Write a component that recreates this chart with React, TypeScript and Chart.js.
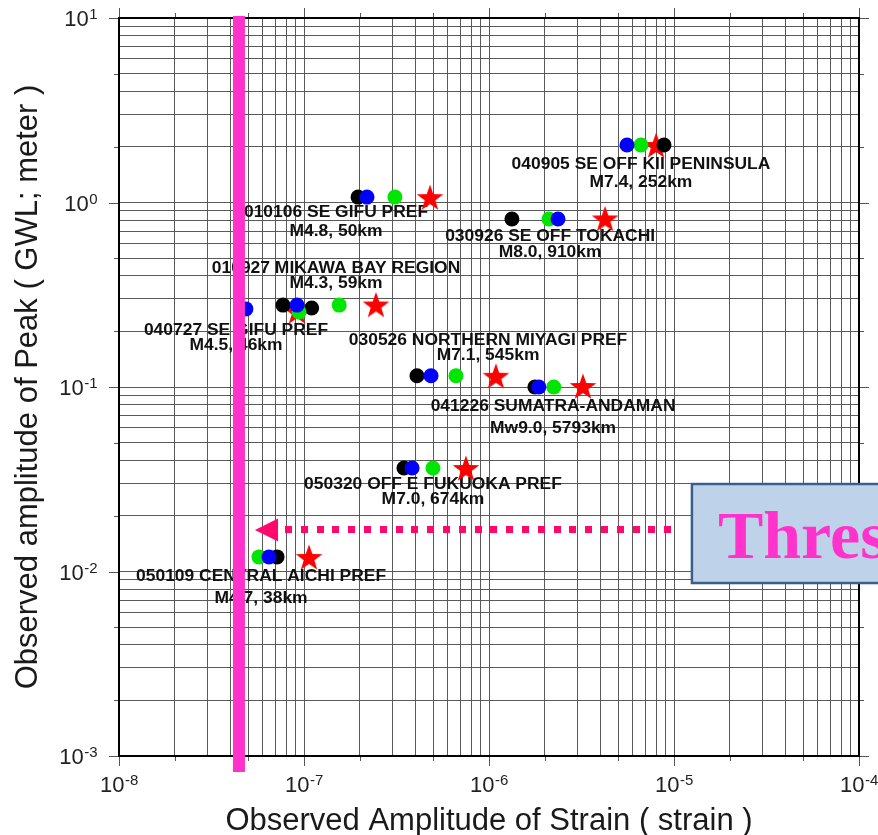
import React, { useEffect, useRef } from 'react';
import { Chart, registerables } from 'chart.js';

Chart.register(...registerables);

// ---- Events (label text) ----
const eventNames = [
  '040905 SE OFF KII PENINSULA',
  '010106 SE GIFU PREF',
  '030926 SE OFF TOKACHI',
  '010927 MIKAWA BAY REGION',
  '040727 SE GIFU PREF',
  '030526 NORTHERN MIYAGI PREF',
  '041226 SUMATRA-ANDAMAN',
  '050320 OFF E FUKUOKA PREF',
  '050109 CENTRAL AICHI PREF',
];
const eventDetails = [
  'M7.4, 252km',
  'M4.8, 50km',
  'M8.0, 910km',
  'M4.3, 59km',
  'M4.5, 46km',
  'M7.1, 545km',
  'Mw9.0, 5793km',
  'M7.0, 674km',
  'M4.7, 38km',
];

// ---- Observations: strain amplitude (x) and GWL peak (y) per station ----
const blackX = [8.83e-6, 1.96e-7, 1.33e-6, 7.7e-8, 1.10e-7, 4.08e-7, 1.77e-6, 3.47e-7, 7.15e-8];
const blackY = [2.05, 1.07, 0.814, 0.278, 0.268, 0.115, 0.100, 0.0364, 0.0120];
const blueX = [5.57e-6, 2.19e-7, 2.36e-6, 9.17e-8, 4.85e-8, 4.86e-7, 1.86e-6, 3.84e-7, 6.47e-8];
const blueY = [2.05, 1.07, 0.814, 0.278, 0.265, 0.115, 0.100, 0.0364, 0.0120];
const greenX = [6.63e-6, 3.10e-7, 2.11e-6, 1.55e-7, 9.4e-8, 6.63e-7, 2.24e-6, 4.98e-7, 5.71e-8];
const greenY = [2.05, 1.07, 0.814, 0.278, 0.255, 0.115, 0.100, 0.0364, 0.0120];
const starX = [8.0e-6, 4.80e-7, 4.24e-6, 2.45e-7, 9.17e-8, 1.09e-6, 3.22e-6, 7.51e-7, 1.065e-7];
const starY = [2.05, 1.07, 0.82, 0.28, 0.258, 0.115, 0.1013, 0.0364, 0.0120];

// ---- Threshold ----
const thresholdStrain = 4.45e-8;
const thresholdText = 'Thres';

// ---- Axes ----
const xDecades = [1e-8, 1e-7, 1e-6, 1e-5, 1e-4];
const yDecades = [1e-3, 1e-2, 1e-1, 1e0, 1e1];
const minorSteps = [2, 3, 4, 5, 6, 7, 8, 9];
const midSteps = [2, 5];
const xTickExponents = ['-8', '-7', '-6', '-5', '-4'];
const yTickExponents = ['-3', '-2', '-1', '0', '1'];
const xTitle = 'Observed Amplitude of Strain ( strain )';
const yTitle = 'Observed amplitude of Peak ( GWL; meter )';

// ---- Annotation anchors (data coordinates) ----
const labelX = [6.63e-6, 1.49e-7, 2.14e-6, 1.49e-7, 4.29e-8, 9.88e-7, 2.22e-6, 4.98e-7, 5.86e-8];
const labelY1 = [1.597, 0.877, 0.650, 0.436, 0.2012, 0.1776, 0.0779, 0.02943, 0.00934];
const labelY2 = [1.276, 0.692, 0.532, 0.3616, 0.1668, 0.1472, 0.0592, 0.0244, 0.0071];
const arrowY = 0.0168;
const arrowTipX = 5.43e-8;
const arrowBaseX = 7.24e-8;
const dotsStartX = 7.9e-8;
const dotsEndX = 1.05e-5;
const boxLeftX = 1.25e-5;
const boxTopY = 0.0298;
const boxBottomY = 0.00866;

type GridItem = { value: number; kind: 'major' | 'mid' | 'minor' };
function buildGrid(decades: number[]): GridItem[] {
  const out: GridItem[] = [];
  decades.forEach((d, i) => {
    out.push({ value: d, kind: 'major' });
    if (i < decades.length - 1) {
      minorSteps.forEach((m) => out.push({ value: m * d, kind: midSteps.includes(m) ? 'mid' : 'minor' }));
    }
  });
  return out;
}
const xGrid = buildGrid(xDecades);
const yGrid = buildGrid(yDecades);

function makeStar(color: string, outer: number, inner: number) {
  const size = 30;
  const c = document.createElement('canvas');
  c.width = size;
  c.height = size;
  const g = c.getContext('2d')!;
  g.fillStyle = color;
  g.beginPath();
  for (let i = 0; i < 10; i++) {
    const r = i % 2 === 0 ? outer : inner;
    const a = -Math.PI / 2 + (i * Math.PI) / 5;
    const px = size / 2 + r * Math.cos(a);
    const py = size / 2 + 1.5 + r * Math.sin(a);
    if (i === 0) g.moveTo(px, py);
    else g.lineTo(px, py);
  }
  g.closePath();
  g.fill();
  return c;
}

const SANS = '"Liberation Sans", Arial, Helvetica, sans-serif';

export default function App() {
  const ref = useRef<HTMLCanvasElement | null>(null);

  useEffect(() => {
    const canvas = ref.current;
    if (!canvas) return;
    const star = makeStar('#FF0000', 14, 5.6);
    const pts = (xs: number[], ys: number[]) => xs.map((x, i) => ({ x, y: ys[i] }));

    const drawScaledText = (ctx: CanvasRenderingContext2D, t: string, x: number, y: number) => {
      ctx.save();
      ctx.translate(x, y);
      ctx.scale(1.09, 1);
      ctx.fillText(t, 0, 0);
      ctx.restore();
    };

    const labelsPlugin = {
      id: 'eventLabels',
      beforeDatasetsDraw(chart: any) {
        const { ctx, scales } = chart;
        const xs = scales.x;
        const ys = scales.y;
        ctx.save();
        ctx.font = `bold 16px ${SANS}`;
        ctx.fillStyle = '#111';
        ctx.textAlign = 'center';
        ctx.textBaseline = 'middle';
        eventNames.forEach((name, i) => {
          const x = xs.getPixelForValue(labelX[i]);
          drawScaledText(ctx, name, x, ys.getPixelForValue(labelY1[i]));
          drawScaledText(ctx, eventDetails[i], x, ys.getPixelForValue(labelY2[i]));
        });
        ctx.restore();
      },
    };

    const overlayPlugin = {
      id: 'overlay',
      afterDraw(chart: any) {
        const { ctx, chartArea: a, scales } = chart;
        const xs = scales.x;
        const ys = scales.y;
        ctx.save();

        // tick marks on all four sides
        ctx.strokeStyle = '#555';
        ctx.lineWidth = 1;
        ctx.beginPath();
        xGrid.forEach((g) => {
          const len = g.kind === 'major' ? 10 : g.kind === 'mid' ? 5 : 0;
          if (!len) return;
          const px = Math.round(xs.getPixelForValue(g.value)) + 0.5;
          ctx.moveTo(px, a.bottom);
          ctx.lineTo(px, a.bottom + len);
          ctx.moveTo(px, a.top);
          ctx.lineTo(px, a.top - len);
        });
        yGrid.forEach((g) => {
          const len = g.kind === 'major' ? 10 : g.kind === 'mid' ? 5 : 0;
          if (!len) return;
          const py = Math.round(ys.getPixelForValue(g.value)) + 0.5;
          ctx.moveTo(a.left, py);
          ctx.lineTo(a.left - len, py);
          ctx.moveTo(a.right, py);
          ctx.lineTo(a.right + len, py);
        });
        ctx.stroke();

        // frame
        ctx.strokeStyle = '#000';
        ctx.lineWidth = 2;
        ctx.strokeRect(a.left, a.top, a.right - a.left, a.bottom - a.top);

        // tick labels
        ctx.fillStyle = '#222';
        ctx.textBaseline = 'alphabetic';
        const bigFont = `22px ${SANS}`;
        const supFont = `15px ${SANS}`;
        const measure = (exp: string) => {
          ctx.font = bigFont;
          const w1 = ctx.measureText('10').width;
          ctx.font = supFont;
          const w2 = ctx.measureText(exp).width;
          return [w1, w2];
        };
        const drawPow = (exp: string, left: number, baseline: number, w1: number) => {
          ctx.textAlign = 'left';
          ctx.font = bigFont;
          ctx.fillText('10', left, baseline);
          ctx.font = supFont;
          ctx.fillText(exp, left + w1 + 0.5, baseline - 7);
        };
        xDecades.forEach((d, i) => {
          const [w1, w2] = measure(xTickExponents[i]);
          const px = xs.getPixelForValue(d);
          drawPow(xTickExponents[i], px - (w1 + w2) / 2, a.bottom + 36, w1);
        });
        yDecades.forEach((d, i) => {
          const [w1, w2] = measure(yTickExponents[i]);
          const py = ys.getPixelForValue(d);
          drawPow(yTickExponents[i], a.left - 22 - (w1 + w2), py + 8, w1);
        });

        // axis titles
        ctx.fillStyle = '#1a1a1a';
        ctx.font = `31px ${SANS}`;
        ctx.textAlign = 'center';
        ctx.textBaseline = 'alphabetic';
        ctx.fillText(xTitle, (a.left + a.right) / 2, a.bottom + 74);
        ctx.save();
        ctx.translate(a.left - 82, (a.top + a.bottom) / 2);
        ctx.rotate(-Math.PI / 2);
        ctx.fillText(yTitle, 0, 0);
        ctx.restore();

        // threshold vertical line
        const tx = xs.getPixelForValue(thresholdStrain);
        ctx.fillStyle = '#FF33CC';
        ctx.fillRect(tx - 6, a.top - 2, 12, a.bottom + 16 - (a.top - 2));

        // dotted arrow
        const ay = ys.getPixelForValue(arrowY);
        const x0 = xs.getPixelForValue(dotsStartX);
        const x1 = xs.getPixelForValue(dotsEndX);
        ctx.fillStyle = '#FF0A6C';
        for (let x = x0; x + 7 <= x1 + 0.5; x += 15.8) {
          ctx.fillRect(Math.round(x), Math.round(ay - 3.5), 7, 7);
        }
        const tip = xs.getPixelForValue(arrowTipX);
        const base = xs.getPixelForValue(arrowBaseX);
        ctx.beginPath();
        ctx.moveTo(tip, ay);
        ctx.lineTo(base, ay - 11.5);
        ctx.lineTo(base, ay + 11.5);
        ctx.closePath();
        ctx.fill();

        // threshold box
        const bl = xs.getPixelForValue(boxLeftX);
        const bt = ys.getPixelForValue(boxTopY);
        const bb = ys.getPixelForValue(boxBottomY);
        ctx.fillStyle = '#BED3E9';
        ctx.fillRect(bl, bt, chart.width - bl + 10, bb - bt);
        ctx.strokeStyle = '#3B5E8C';
        ctx.lineWidth = 2.5;
        ctx.strokeRect(bl, bt, chart.width - bl + 10, bb - bt);
        ctx.fillStyle = '#FF33CC';
        ctx.font = `bold 68px "Liberation Serif", "Times New Roman", serif`;
        ctx.textAlign = 'left';
        ctx.textBaseline = 'alphabetic';
        ctx.fillText(thresholdText, bl + 26, (bt + bb) / 2 + 24.5);

        ctx.restore();
      },
    };

    const chart = new Chart(canvas, {
      type: 'scatter',
      data: {
        datasets: [
          { label: 'blue', data: pts(blueX, blueY), backgroundColor: '#0000FF', pointRadius: 7.5, pointHoverRadius: 7.5, borderWidth: 0 },
          { label: 'green', data: pts(greenX, greenY), backgroundColor: '#00E600', pointRadius: 7.5, pointHoverRadius: 7.5, borderWidth: 0 },
          { label: 'black', data: pts(blackX, blackY), backgroundColor: '#000000', pointRadius: 7.5, pointHoverRadius: 7.5, borderWidth: 0 },
          { label: 'star', data: pts(starX, starY), pointStyle: star as any, pointRadius: 14, pointHoverRadius: 14, backgroundColor: '#FF0000', borderWidth: 0 },
        ],
      },
      options: {
        responsive: false,
        animation: false,
        events: [],
        layout: { padding: { left: 119, top: 18, right: 19, bottom: 79 } },
        plugins: { legend: { display: false }, tooltip: { enabled: false } },
        scales: {
          x: {
            type: 'logarithmic',
            min: 1e-8,
            max: 1e-4,
            afterBuildTicks: (axis: any) => {
              axis.ticks = xGrid.map((g) => ({ value: g.value }));
            },
            afterFit: (axis: any) => {
              axis.height = 0;
            },
            ticks: { display: false },
            grid: { color: '#5a5a5a', lineWidth: 1, drawTicks: false },
            border: { display: false },
          },
          y: {
            type: 'logarithmic',
            min: 1e-3,
            max: 1e1,
            afterBuildTicks: (axis: any) => {
              axis.ticks = yGrid.map((g) => ({ value: g.value }));
            },
            afterFit: (axis: any) => {
              axis.width = 0;
            },
            ticks: { display: false },
            grid: { color: '#5a5a5a', lineWidth: 1, drawTicks: false },
            border: { display: false },
          },
        },
      } as any,
      plugins: [labelsPlugin, overlayPlugin],
    });

    return () => chart.destroy();
  }, []);

  return (
    <div style={{ position: 'absolute', left: 0, top: 0, width: 878, height: 835, background: '#fff' }}>
      <canvas ref={ref} width={878} height={835} style={{ display: 'block' }} />
    </div>
  );
}
